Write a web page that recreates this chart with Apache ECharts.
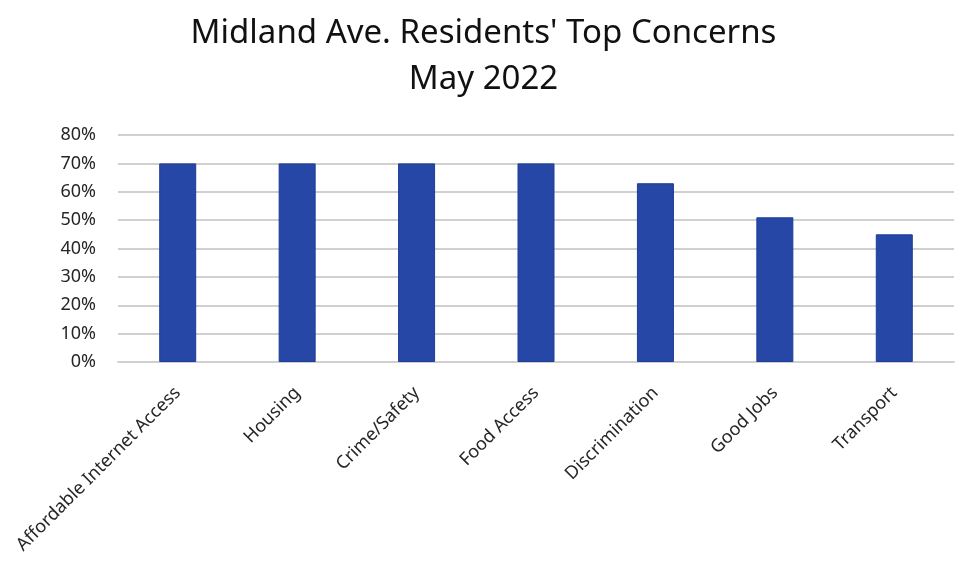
<!DOCTYPE html>
<html>
<head>
<meta charset="utf-8">
<script src="https://cdn.jsdelivr.net/npm/echarts@6/dist/echarts.min.js"></script>
<style>html,body{margin:0;padding:0;background:#fff}#c{width:967px;height:568px}</style>
</head>
<body>
<div id="c"></div>
<script>
const categories = ['Affordable Internet Access','Housing','Crime/Safety','Food Access','Discrimination','Good Jobs','Transport'];
const values = [70, 70, 70, 70, 63, 51, 45];
const titleText = "Midland Ave. Residents' Top Concerns\nMay 2022";

const chart = echarts.init(document.getElementById('c'));
chart.setOption({
  animation: false,
  title: {
    text: titleText,
    left: 'center',
    top: 6,
    textStyle: { fontFamily: 'Noto Sans', fontSize: 33, fontWeight: 'normal', color: '#111', lineHeight: 46 }
  },
  grid: { left: 118, right: 13, top: 135, bottom: 206 },
  xAxis: {
    type: 'category',
    data: categories,
    axisLine: { lineStyle: { color: '#d0d0d0', width: 2 } },
    axisTick: { show: false },
    axisLabel: { rotate: 45, interval: 0, margin: 28, fontFamily: 'Noto Sans', fontSize: 18, color: '#262626' }
  },
  yAxis: {
    type: 'value',
    min: 0, max: 80, interval: 10,
    axisLine: { show: false },
    axisTick: { show: false },
    splitLine: { lineStyle: { color: '#d0d0d0', width: 2 } },
    axisLabel: { formatter: '{value}%', margin: 22, fontFamily: 'Noto Sans', fontSize: 18, color: '#262626' }
  },
  series: [{
    type: 'bar',
    data: values,
    barWidth: 37,
    itemStyle: { color: '#2747a6', borderColor: '#1f3c96', borderWidth: 1 }
  }]
});
</script>
</body>
</html>
